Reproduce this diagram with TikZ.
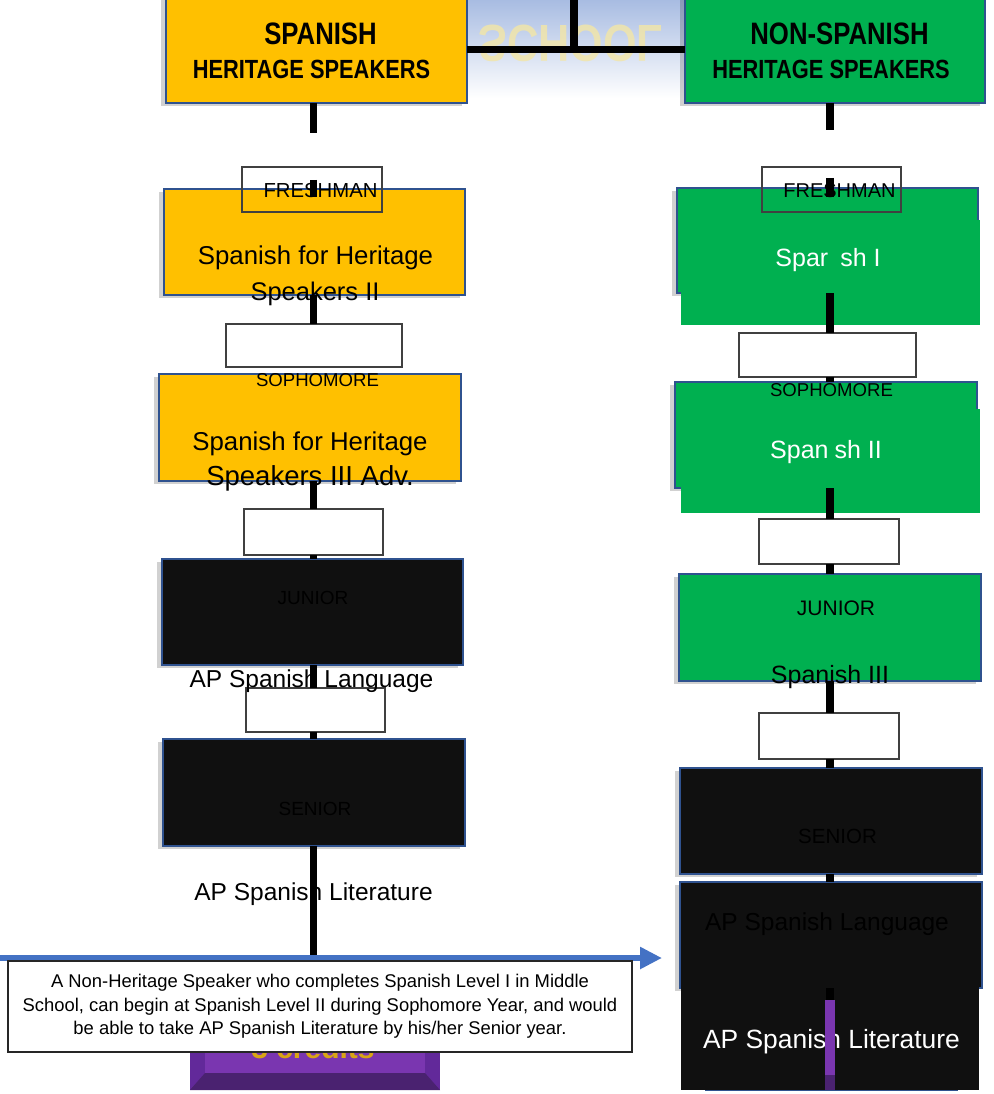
\documentclass[tikz,border=0pt]{standalone}
\usepackage{fontspec}
\setmainfont{Liberation Sans}
\newfontfamily\hdrfont[FakeStretch=0.83]{Liberation Sans}
\usetikzlibrary{shadows,arrows.meta}
\definecolor{myyellow}{HTML}{FFC000}
\definecolor{mygreen}{HTML}{00B050}
\definecolor{myblack}{HTML}{101010}
\definecolor{bdr}{HTML}{2F528F}
\definecolor{arrowblue}{HTML}{4472C4}
\definecolor{skyblue}{HTML}{A8BCE2}
\definecolor{logoyel}{HTML}{F3E6A6}
\definecolor{purp}{HTML}{7A36B0}
\definecolor{purpdark}{HTML}{4A2270}
\definecolor{purpmid}{HTML}{62299A}
\definecolor{gold}{HTML}{D9A514}
\newcommand{\myfs}[1]{\fontsize{#1}{#1}\selectfont}
\begin{document}
\begin{tikzpicture}[x=1pt,y=-1pt,
  box/.style={draw=bdr,line width=2.2pt,inner sep=0pt,outer sep=0pt,
     drop shadow={shadow xshift=-5pt,shadow yshift=-3pt,opacity=0.18,fill=black}},
  ybox/.style={box,fill=myyellow},
  gbox/.style={box,fill=mygreen},
  kbox/.style={box,fill=myblack},
  lblbox/.style={draw=black!75,line width=1.1pt,fill=white,inner sep=0pt,outer sep=0pt},
  lbledge/.style={draw=black!75,line width=1.1pt},
  flat/.style={inner sep=0pt,outer sep=0pt,draw=none},
  conn/.style={line width=7.5pt,black},
  txt/.style={inner sep=0pt,outer sep=0pt,anchor=base},
]
\useasboundingbox (0,0) rectangle (993,1094);
\clip (0,0) rectangle (993,1094);

% logo background
\shade[top color=skyblue,bottom color=white] (440,0) rectangle (700,98);
\node[font=\hdrfont\bfseries\myfs{52},text=logoyel,opacity=0.8,yscale=-1,inner sep=0pt] (logo) at (571,43) {SCHOOL};

% top junction
\coordinate (jtop) at (574,0);
\coordinate (jn) at (574,49.5);

% header boxes
\node[ybox,minimum width=301pt,minimum height=106pt] (hdrL) at (316.5,50) {};
\node[gbox,minimum width=300pt,minimum height=106pt] (hdrR) at (835,50) {};
\draw[line width=7.5pt] (jtop) -- (jn);
\draw[line width=7pt] (hdrL.east |- jn) -- (hdrR.west |- jn);

\node[txt,font=\hdrfont\bfseries\myfs{31}] (hL1) at (320.5,45) {SPANISH};
\node[txt,font=\hdrfont\bfseries\myfs{26.3}] (hL2) at (311.5,79) {HERITAGE SPEAKERS};
\node[txt,font=\hdrfont\bfseries\myfs{31}] (hR1) at (839.5,45) {NON-SPANISH};
\node[txt,font=\hdrfont\bfseries\myfs{26.3}] (hR2) at (831,79) {HERITAGE SPEAKERS};

\coordinate (colL) at (313.5,0);
\coordinate (colR) at (830,0);

% ---------- left column ----------
\node[lblbox,minimum width=140pt,minimum height=45pt] (fL) at (312,189.5) {};
\node[ybox,minimum width=301pt,minimum height=106pt] (yL1) at (314.5,242) {};
\draw[lbledge] (fL.north west) rectangle (fL.south east);
\node[lblbox,minimum width=176pt,minimum height=43pt] (wL2) at (314,345.5) {};
\node[ybox,minimum width=302pt,minimum height=107pt] (yL2) at (310,427.5) {};
\node[lblbox,minimum width=139pt,minimum height=46pt] (wL3) at (313.5,532) {};
\node[kbox,minimum width=301pt,minimum height=106pt] (jrL) at (312.5,612) {};
\node[lblbox,minimum width=139pt,minimum height=44pt] (wL4) at (315.5,710) {};
\node[kbox,minimum width=302pt,minimum height=107pt] (srL) at (314,792.5) {};

% ---------- right column ----------
\node[lblbox,minimum width=139pt,minimum height=45pt] (fR) at (831.5,189.5) {};
\node[gbox,minimum width=301pt,minimum height=105pt] (gR1) at (827.5,240.5) {};
\draw[lbledge] (fR.north west) rectangle (fR.south east);
\node[flat,fill=mygreen,minimum width=299pt,minimum height=105pt] (gR1f) at (830.5,272.5) {};
\node[lblbox,minimum width=177pt,minimum height=44pt] (wR2) at (827.5,355) {};
\node[gbox,minimum width=302pt,minimum height=106pt] (gR2) at (826,435) {};
\node[flat,fill=mygreen,minimum width=299pt,minimum height=104pt] (gR2f) at (830.5,461) {};
\node[lblbox,minimum width=140pt,minimum height=45pt] (wR3) at (829,541.5) {};
\node[gbox,minimum width=302pt,minimum height=107pt] (gR3) at (830,627.5) {};
\node[lblbox,minimum width=140pt,minimum height=46pt] (wR4) at (829,736) {};
\node[kbox,minimum width=302pt,minimum height=106pt] (srR) at (831,821) {};
\node[kbox,minimum width=302pt,minimum height=106pt] (alR) at (831,935) {};
\node[flat,fill=myblack,minimum width=298pt,minimum height=108pt] (bR) at (830,1036) {};

% ---------- texts ----------
\node[txt,font=\myfs{20.3}] (tfL) at (320.5,197) {FRESHMAN};
\node[txt,font=\myfs{25.8}] (tL1a) at (315.5,264) {Spanish for Heritage};
\node[txt,font=\myfs{25.5}] (tL1b) at (315,300) {Speakers II};
\node[txt,font=\myfs{18.6}] (tsL) at (317.5,386) {SOPHOMORE};
\node[txt,font=\myfs{25.8}] (tL2a) at (310,450) {Spanish for Heritage};
\node[txt,font=\myfs{27.5}] (tL2b) at (310,485) {Speakers III Adv.};
\node[txt,font=\myfs{19}] (tjL) at (313,604) {JUNIOR};
\node[txt,font=\myfs{24.5}] (tL3) at (311.5,687) {AP Spanish Language};
\node[txt,font=\myfs{19}] (tsrL) at (315,815) {SENIOR};
\node[txt,font=\myfs{24.5}] (tL4) at (313.5,900) {AP Spanish Literature};

\node[txt,font=\myfs{20}] (tfR) at (839.5,197) {FRESHMAN};
\node[txt,font=\myfs{25},text=white] (tR1) at (828,266) {Spar\hspace{12pt}sh I};
\node[txt,font=\myfs{18.6}] (tsR) at (831.5,396) {SOPHOMORE};
\node[txt,font=\myfs{25},text=white] (tR2) at (826,458) {Span\hspace{6pt}sh II};
\node[txt,font=\myfs{21}] (tjR) at (836,615) {JUNIOR};
\node[txt,font=\myfs{25}] (tR3) at (830,683) {Spanish III};
\node[txt,font=\myfs{20.5}] (tsrR) at (837.5,843) {SENIOR};
\node[txt,font=\myfs{24.5}] (tR4) at (827,930) {AP Spanish Language};
\node[txt,font=\myfs{26.4},text=white] (tR5) at (831.5,1048) {AP Spanish Literature};

% ---------- connectors ----------
\coordinate (cL0) at (313.5,133);
\coordinate (cL1a) at (313.5,180);
\coordinate (cL1b) at (313.5,197);
\coordinate (arrJ) at (313.5,958);
\draw[conn] (hdrL.south -| colL) -- (cL0);
\draw[conn] (cL1a) -- (cL1b);
\draw[conn] (yL1.south -| colL) -- (wL2.north -| colL);
\draw[conn] (yL2.south -| colL) -- (wL3.north -| colL);
\draw[conn] (wL3.south -| colL) -- (jrL.north -| colL);
\draw[conn] (jrL.south -| colL) -- (wL4.north -| colL);
\draw[conn] (wL4.south -| colL) -- (srL.north -| colL);
\draw[conn] (srL.south -| colL) -- (arrJ);

\coordinate (cR0) at (830,130);
\coordinate (cR1a) at (830,178);
\coordinate (cR1b) at (830,197);
\coordinate (cRend) at (830,1000);
\draw[conn] (hdrR.south -| colR) -- (cR0);
\draw[conn] (cR1a) -- (cR1b);
\draw[conn] (gR1.south -| colR) -- (wR2.north -| colR);
\draw[conn] (wR2.south -| colR) -- (gR2.north -| colR);
\draw[conn] (gR2.south -| colR) -- (wR3.north -| colR);
\draw[conn] (wR3.south -| colR) -- (gR3.north -| colR);
\draw[conn] (gR3.south -| colR) -- (wR4.north -| colR);
\draw[conn] (wR4.south -| colR) -- (srR.north -| colR);
\draw[conn] (srR.south -| colR) -- (alR.north -| colR);
\draw[conn] (alR.south -| colR) -- (cRend);

% purple strip at bottom right
\fill[purp] (825,1000) rectangle (835,1075);
\fill[purpdark] (825,1075) rectangle (835,1091);
\draw[bdr,line width=1.5pt] (705,1090.5) -- (958,1090.5);

% ---------- purple credits box (mostly hidden) ----------
\fill[purpmid] (190,1030) rectangle (440,1090);
\fill[purp] (205,1030) rectangle (425,1073);
\fill[purpdark] (190,1090) -- (205,1073) -- (425,1073) -- (440,1090) -- cycle;
\begin{scope}
  \clip (190,1053) rectangle (440,1090);
  \node[txt,font=\bfseries\myfs{30},text=gold] (cred) at (313,1058) {3 credits};
\end{scope}

% ---------- arrow and note ----------
\coordinate (arrS) at (0,958);
\coordinate (arrE) at (662,958);
\draw[arrowblue,line width=6.5pt,-{Triangle[length=22pt,width=21pt]}] (arrS) -- (arrE);

\node[draw=black!85,line width=1.2pt,fill=white,minimum width=624pt,minimum height=91pt,
      inner sep=0pt,align=center,font=\fontsize{18.4}{23.5}\selectfont] (note) at (320,1006.5)
  {A Non-Heritage Speaker who completes Spanish Level I in Middle\\
   School, can begin at Spanish Level II during Sophomore Year, and would\\
   be able to take AP Spanish Literature by his/her Senior year.};
\end{tikzpicture}
\end{document}
